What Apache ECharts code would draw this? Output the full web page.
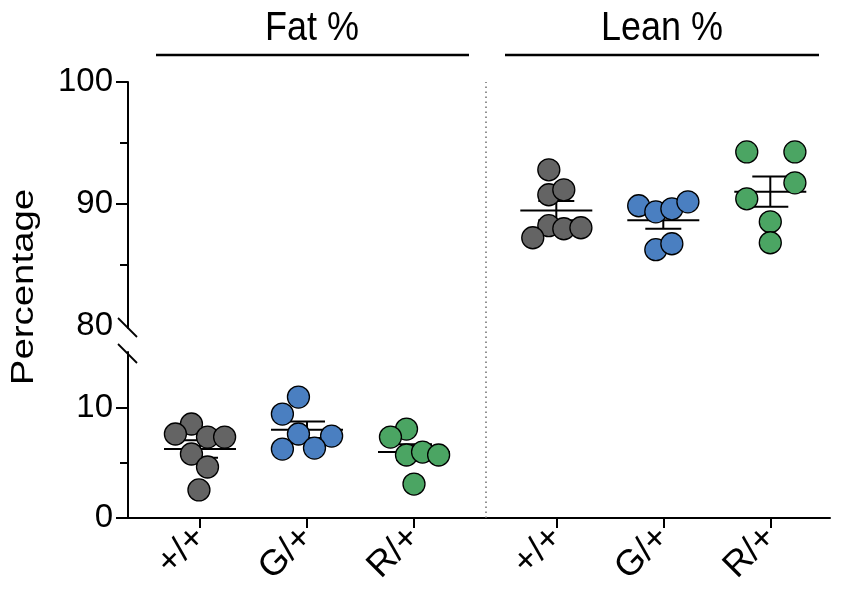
<!DOCTYPE html>
<html>
<head>
<meta charset="utf-8">
<script src="https://cdn.jsdelivr.net/npm/echarts@6/dist/echarts.min.js"></script>
<style>
  html, body { margin: 0; padding: 0; background: #fff; }
  #chart { width: 843px; height: 606px; }
</style>
</head>
<body>
<div id="chart"></div>
<script>
// group positions on the x axis and their tick labels
const xPos = [1, 2, 3, 4.33, 5.33, 6.33]
const xLabels = ['+/+', 'G/+', 'R/+', '+/+', 'G/+', 'R/+']

// Fat % (lower panel)
const fatWT = [8.55, 7.64, 7.36, 7.36, 5.82, 4.64, 2.55]
const fatWTJit = [-0.08, -0.23, 0.07, 0.23, -0.08, 0.07, -0.01]
const fatG = [11.0, 9.45, 7.64, 7.45, 6.27, 6.36]
const fatGJit = [-0.08, -0.23, -0.08, 0.23, -0.23, 0.07]
const fatR = [8.09, 7.36, 5.73, 6.0, 5.73, 3.09]
const fatRJit = [-0.07, -0.22, -0.07, 0.08, 0.23, 0]

// Lean % (upper panel)
const leanWT = [92.79, 90.74, 91.15, 88.2, 87.95, 88.03, 87.21]
const leanWTJit = [-0.07, -0.07, 0.07, -0.07, 0.07, 0.23, -0.22]
const leanG = [89.84, 89.34, 89.59, 90.16, 86.23, 86.72]
const leanGJit = [-0.23, -0.07, 0.08, 0.23, -0.07, 0.08]
const leanR = [94.26, 94.26, 91.72, 90.41, 88.52, 86.8]
const leanRJit = [-0.22, 0.23, 0.23, -0.22, 0, 0]

const COLORS = { wt: '#646464', g: '#4a7fc1', r: '#4ba563' }
const SANS = '"Liberation Sans", Arial, sans-serif'

const X_MIN = 0.327
const X_MAX = 6.888

const groups = [
  { x: xPos[0], vals: fatWT, jit: fatWTJit, color: COLORS.wt, panel: 'low' },
  { x: xPos[1], vals: fatG, jit: fatGJit, color: COLORS.g, panel: 'low' },
  { x: xPos[2], vals: fatR, jit: fatRJit, color: COLORS.r, panel: 'low' },
  { x: xPos[3], vals: leanWT, jit: leanWTJit, color: COLORS.wt, panel: 'high' },
  { x: xPos[4], vals: leanG, jit: leanGJit, color: COLORS.g, panel: 'high' },
  { x: xPos[5], vals: leanR, jit: leanRJit, color: COLORS.r, panel: 'high' },
]

function meanSem(v) {
  const m = v.reduce((a, b) => a + b, 0) / v.length
  const sd = Math.sqrt(v.reduce((a, b) => a + (b - m) ** 2, 0) / (v.length - 1))
  return [m, sd / Math.sqrt(v.length)]
}

const axisLine = { show: true, lineStyle: { color: '#000', width: 2 } }
const tickFont = { color: '#000', fontSize: 33, fontFamily: SANS }

function errorBar(params, api) {
  const x = api.value(0), m = api.value(1), s = api.value(2)
  const c = api.coord([x, m])
  const hi = api.coord([x, m + s])
  const lo = api.coord([x, m - s])
  const st = { stroke: '#000', lineWidth: 2 }
  return {
    type: 'group',
    children: [
      { type: 'line', shape: { x1: c[0] - 36, y1: c[1], x2: c[0] + 36, y2: c[1] }, style: st },
      { type: 'line', shape: { x1: c[0], y1: hi[1], x2: c[0], y2: lo[1] }, style: st },
      { type: 'line', shape: { x1: c[0] - 18, y1: hi[1], x2: c[0] + 18, y2: hi[1] }, style: st },
      { type: 'line', shape: { x1: c[0] - 18, y1: lo[1], x2: c[0] + 18, y2: lo[1] }, style: st },
    ],
  }
}

const series = []
groups.forEach((g) => {
  const ax = g.panel === 'high' ? { xAxisIndex: 0, yAxisIndex: 0 } : { xAxisIndex: 1, yAxisIndex: 2 }
  const [m, s] = meanSem(g.vals)
  series.push({
    type: 'custom',
    ...ax,
    renderItem: errorBar,
    data: [[g.x, m, s]],
    z: 2,
    silent: true,
  })
  series.push({
    type: 'scatter',
    ...ax,
    data: g.vals.map((v, i) => [g.x + g.jit[i], v]),
    symbolSize: 22,
    itemStyle: { color: g.color, borderColor: '#000', borderWidth: 1.3, opacity: 1 },
    z: 3,
    silent: true,
  })
})

// dotted separator spanning both panels
series.push({
  type: 'scatter',
  xAxisIndex: 2,
  yAxisIndex: 4,
  data: [],
  markLine: {
    silent: true,
    symbol: 'none',
    label: { show: false },
    lineStyle: { color: '#6e6e6e', width: 1.5, type: [1.5, 3.5] },
    data: [{ xAxis: 3.665 }],
  },
})

const chart = echarts.init(document.getElementById('chart'), null, { renderer: 'canvas' })
chart.setOption({
  animation: false,
  backgroundColor: '#fff',
  grid: [
    { left: 128, right: 13, top: 82, height: 246 },
    { left: 128, right: 13, top: 352, bottom: 88 },
    { left: 128, right: 13, top: 82, bottom: 88 },
  ],
  xAxis: [
    { type: 'value', gridIndex: 0, min: X_MIN, max: X_MAX, show: false },
    {
      type: 'value', gridIndex: 1, min: X_MIN, max: X_MAX,
      axisLine: { ...axisLine, onZero: false },
      splitLine: { show: false },
      axisTick: { show: true, length: 10, lineStyle: { color: '#000', width: 2 }, customValues: xPos },
      axisLabel: {
        ...tickFont, fontSize: 36, rotate: 45, margin: 14,
        customValues: xPos,
        formatter: (v) => xLabels[xPos.findIndex((p) => Math.abs(p - v) < 1e-6)] || '',
      },
    },
    { type: 'value', gridIndex: 2, min: X_MIN, max: X_MAX, show: false },
  ],
  yAxis: [
    {
      type: 'value', gridIndex: 0, min: 79.8, max: 100, position: 'left',
      axisLine, splitLine: { show: false },
      axisTick: { show: true, length: 12, lineStyle: { color: '#000', width: 2 }, customValues: [90, 100] },
      axisLabel: { ...tickFont, margin: 15, customValues: [80, 90, 100] },
    },
    {
      type: 'value', gridIndex: 0, min: 79.8, max: 100, position: 'left',
      axisLine: { show: false }, splitLine: { show: false }, axisLabel: { show: false },
      axisTick: { show: true, length: 8, lineStyle: { color: '#000', width: 2 }, customValues: [85, 95] },
    },
    {
      type: 'value', gridIndex: 1, min: 0, max: 15.1, position: 'left',
      axisLine, splitLine: { show: false },
      axisTick: { show: true, length: 12, lineStyle: { color: '#000', width: 2 }, customValues: [0, 10] },
      axisLabel: { ...tickFont, margin: 15, customValues: [0, 10] },
    },
    {
      type: 'value', gridIndex: 1, min: 0, max: 15.1, position: 'left',
      axisLine: { show: false }, splitLine: { show: false }, axisLabel: { show: false },
      axisTick: { show: true, length: 8, lineStyle: { color: '#000', width: 2 }, customValues: [5] },
    },
    { type: 'value', gridIndex: 2, min: 0, max: 1, show: false },
  ],
  graphic: [
    { type: 'text', x: 312, y: 29, scaleY: 1.12, style: { text: 'Fat %', fill: '#000', font: '36px ' + SANS, align: 'center', verticalAlign: 'middle' } },
    { type: 'line', shape: { x1: 156, y1: 55, x2: 469, y2: 55 }, style: { stroke: '#000', lineWidth: 2.5 } },
    { type: 'text', x: 662, y: 29, scaleY: 1.12, style: { text: 'Lean %', fill: '#000', font: '36px ' + SANS, align: 'center', verticalAlign: 'middle' } },
    { type: 'line', shape: { x1: 505, y1: 55, x2: 819, y2: 55 }, style: { stroke: '#000', lineWidth: 2.5 } },
    { type: 'text', x: 24, y: 287, rotation: Math.PI / 2, scaleX: 1.2, style: { text: 'Percentage', fill: '#000', font: '32px ' + SANS, align: 'center', verticalAlign: 'middle' } },
    // axis break marks
    { type: 'line', shape: { x1: 118, y1: 318, x2: 137, y2: 337 }, style: { stroke: '#000', lineWidth: 1.8 } },
    { type: 'line', shape: { x1: 118, y1: 344, x2: 137, y2: 363 }, style: { stroke: '#000', lineWidth: 1.8 } },
  ],
  series,
})
</script>
</body>
</html>
